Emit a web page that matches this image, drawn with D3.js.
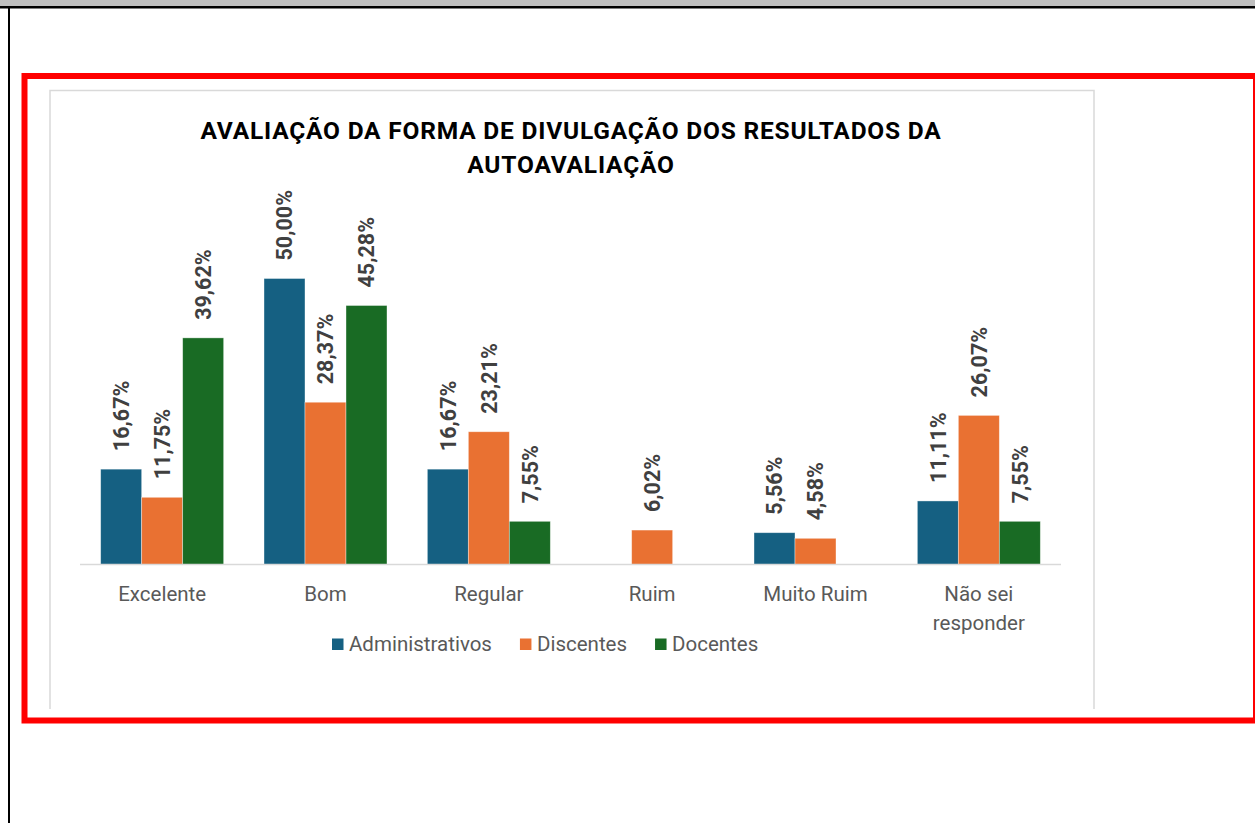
<!DOCTYPE html>
<html>
<head>
<meta charset="utf-8">
<script src="https://cdn.jsdelivr.net/npm/d3@7"></script>
<style>
  body { margin: 0; background: #fff; }
  svg { display: block; }
</style>
</head>
<body>
<div id="chart"></div>
<script>
// data
const categories = ["Excelente", "Bom", "Regular", "Ruim", "Muito Ruim", "Não sei responder"];
const series = ["Administrativos", "Discentes", "Docentes"];
const administrativos = [16.67, 50.00, 16.67, null, 5.56, 11.11];
const discentes = [11.75, 28.37, 23.21, 6.02, 4.58, 26.07];
const docentes = [39.62, 45.28, 7.55, null, null, 7.55];
const colors = ["#156082", "#E97132", "#196B24"];
const titleLines = ["AVALIAÇÃO DA FORMA DE DIVULGAÇÃO DOS RESULTADOS DA", "AUTOAVALIAÇÃO"];

let values = [administrativos, discentes, docentes];

const W = 1255, H = 823;

const svg = d3.select("#chart")
  .append("svg")
  .attr("width", W)
  .attr("height", H);

// page furniture: grey strip, black rules, red highlight box
svg.append("rect").attr("x", 0).attr("y", 0).attr("width", W).attr("height", 7).attr("fill", "#bfbfbf");
svg.append("rect").attr("x", 0).attr("y", 6).attr("width", W).attr("height", 2.5).attr("fill", "#000");
svg.append("rect").attr("x", 8).attr("y", 6).attr("width", 2).attr("height", H).attr("fill", "#000");

// chart frame (bottom edge is cut off)
svg.append("path")
  .attr("d", "M50,709V90.5H1094V709")
  .attr("fill", "none")
  .attr("stroke", "#d9d9d9")
  .attr("stroke-width", 1.5);

svg.append("rect")
  .attr("x", 24.5).attr("y", 76)
  .attr("width", 1231.5).attr("height", 644.5)
  .attr("fill", "none")
  .attr("stroke", "#ff0000")
  .attr("stroke-width", 6);

// title
svg.append("text")
  .attr("x", 571)
  .attr("y", 139)
  .attr("text-anchor", "middle")
  .attr("font-family", "Roboto")
  .attr("font-weight", "bold")
  .attr("font-size", 24.5)
  .attr("letter-spacing", 0.8)
  .attr("fill", "#000")
  .selectAll("tspan")
  .data(titleLines)
  .join("tspan")
  .attr("x", 571)
  .attr("dy", (d, i) => i == 0 ? 0 : 34)
  .text(d => d);

// scales
const baseY = 564.5;
let x = d3.scaleBand()
  .domain(categories)
  .range([80.5, 1060.5])
  .paddingInner(0.247)
  .paddingOuter(0.1235);

let xs = d3.scaleBand()
  .domain(series)
  .range([0, x.bandwidth()]);

let y = d3.scaleLinear()
  .domain([0, 60])
  .range([baseY, baseY - 343.2]);

// bars + labels
for (let s = 0; s < series.length; s++) {
  let vals = values[s];
  let g = svg.append("g");
  categories.forEach((c, i) => {
    let v = vals[i];
    if (v == null) return;
    let bx = x(c) + xs(series[s]);
    g.append("rect")
      .attr("x", bx)
      .attr("y", y(v))
      .attr("width", xs.bandwidth())
      .attr("height", y(0) - y(v))
      .attr("fill", colors[s])
      .attr("stroke", "#ffffff")
      .attr("stroke-opacity", 0.5)
      .attr("stroke-width", 0.75);

    let lx = bx + xs.bandwidth() / 2;
    let ly = y(v) - 18;
    g.append("text")
      .attr("transform", `translate(${lx},${ly}) rotate(-90)`)
      .attr("dy", "0.36em")
      .attr("font-family", "Roboto")
      .attr("font-weight", "bold")
      .attr("font-size", 21.5)
      .attr("fill", "#404040")
      .text(v.toFixed(2).replace(".", ",") + "%");
  });
}

// axis line
svg.append("line")
  .attr("x1", 80)
  .attr("x2", 1061)
  .attr("y1", baseY)
  .attr("y2", baseY)
  .attr("stroke", "#d9d9d9")
  .attr("stroke-width", 1.5);

// category labels (last one wraps)
const catLines = { "Não sei responder": ["Não sei", "responder"] };
categories.forEach(c => {
  let lines = catLines[c] || [c];
  svg.append("text")
    .attr("text-anchor", "middle")
    .attr("font-family", "Roboto")
    .attr("font-size", 20.5)
    .attr("fill", "#595959")
    .selectAll("tspan")
    .data(lines)
    .join("tspan")
    .attr("x", x(c) + x.bandwidth() / 2)
    .attr("y", (d, i) => 601 + i * 28.5)
    .text(d => d);
});

// legend
let lx = 332;
series.forEach((s, i) => {
  svg.append("rect")
    .attr("x", lx)
    .attr("y", 638.5)
    .attr("width", 11.5)
    .attr("height", 11.5)
    .attr("fill", colors[i]);
  let t = svg.append("text")
    .attr("x", lx + 17)
    .attr("y", 651)
    .attr("font-family", "Roboto")
    .attr("font-size", 20.5)
    .attr("fill", "#595959")
    .text(s);
  lx = lx + 17 + t.node().getComputedTextLength() + 28;
});
</script>
</body>
</html>
